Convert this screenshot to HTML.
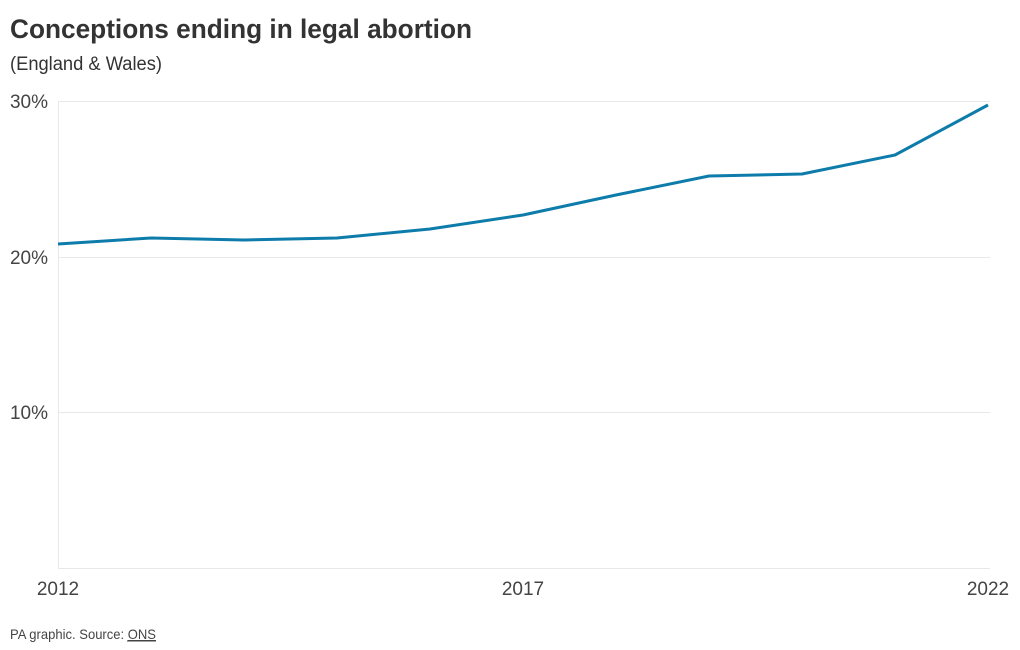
<!DOCTYPE html>
<html><head><style>body{margin:0;background:#fff}svg{display:block}</style></head>
<body>
<svg width="1020" height="650" viewBox="0 0 1020 650" xmlns="http://www.w3.org/2000/svg" font-family="Liberation Sans, Arial, sans-serif">
<text x="10" y="38" font-size="27" font-weight="bold" fill="#333" textLength="462" lengthAdjust="spacingAndGlyphs">Conceptions ending in legal abortion</text>
<text x="10" y="70" font-size="19" fill="#333" textLength="152" lengthAdjust="spacingAndGlyphs">(England &amp; Wales)</text>
<g stroke="#e8e8e8" stroke-width="1">
<line x1="58" y1="101.5" x2="990" y2="101.5"/>
<line x1="58" y1="257.5" x2="990" y2="257.5"/>
<line x1="58" y1="412.5" x2="990" y2="412.5"/>
<line x1="58" y1="568.5" x2="990" y2="568.5"/>
<line x1="58.5" y1="101" x2="58.5" y2="568"/>
</g>
<g font-size="19" fill="#444" text-anchor="end">
<text x="48" y="108">30%</text>
<text x="48" y="264">20%</text>
<text x="48" y="419">10%</text>
</g>
<g font-size="19" fill="#444" text-anchor="middle">
<text x="58" y="595">2012</text>
<text x="523" y="595">2017</text>
<text x="988" y="595">2022</text>
</g>
<polyline fill="none" stroke="#0e7cab" stroke-width="3" stroke-linejoin="round" points="58,244 151,238 244,240 337,238 430,229 523,215 616,195 709,176 802,174 895,155 988,105"/>
<text x="10" y="639" font-size="14" fill="#444" textLength="146" lengthAdjust="spacingAndGlyphs">PA graphic. Source: <tspan text-decoration="underline">ONS</tspan></text>
<line x1="127" y1="641" x2="156" y2="641" stroke="#444" stroke-width="1"/>
</svg>
</body></html>
